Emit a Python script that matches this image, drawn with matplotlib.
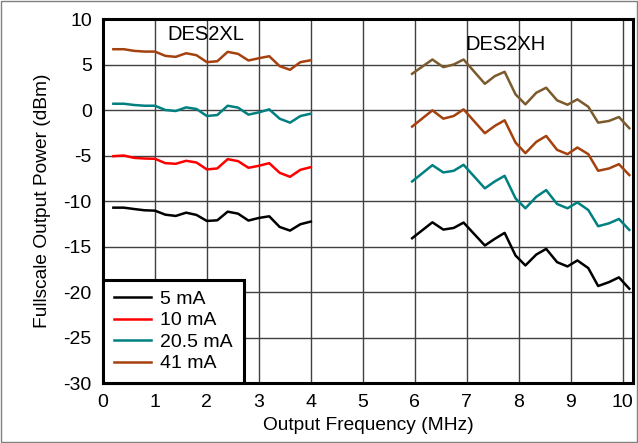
import matplotlib.pyplot as plt
from matplotlib.patches import Rectangle

plt.rcParams['font.family'] = ['Liberation Sans', 'DejaVu Sans']
plt.rcParams['axes.unicode_minus'] = False

# DES2XL sweep
freq_xl = [0.2, 0.4, 0.6, 0.8, 1.0, 1.2, 1.4, 1.6, 1.8, 2.0,
           2.2, 2.4, 2.6, 2.8, 3.0, 3.2, 3.4, 3.6, 3.8, 4.0]
xl_5ma = [-10.73, -10.73, -10.88, -11.02, -11.06, -11.5, -11.64, -11.28, -11.53, -12.19,
          -12.12, -11.17, -11.39, -12.15, -11.86, -11.68, -12.85, -13.25, -12.55, -12.26]
xl_10ma = [-5.07, -5.0, -5.26, -5.33, -5.36, -5.84, -5.91, -5.58, -5.77, -6.53,
           -6.42, -5.4, -5.62, -6.35, -6.13, -5.84, -6.9, -7.34, -6.57, -6.28]
xl_20ma = [0.69, 0.69, 0.55, 0.47, 0.47, 0.0, -0.11, 0.29, 0.11, -0.66,
           -0.55, 0.47, 0.26, -0.51, -0.26, 0.07, -0.95, -1.39, -0.66, -0.4]
xl_41ma = [6.68, 6.68, 6.5, 6.42, 6.42, 5.95, 5.84, 6.24, 6.02, 5.26,
           5.36, 6.39, 6.17, 5.44, 5.69, 5.91, 4.82, 4.42, 5.26, 5.47]

# DES2XH sweep
freq_xh = [5.95, 6.34, 6.55, 6.75, 6.94, 7.35, 7.54, 7.73, 7.94, 8.13,
           8.34, 8.53, 8.74, 8.94, 9.13, 9.34, 9.53, 9.74, 9.93, 10.13]
xh_a = [-14.09, -12.34, -13.14, -12.96, -12.37, -14.89, -14.16, -13.5, -15.99, -17.08,
        -15.88, -15.26, -16.72, -17.19, -16.53, -17.37, -19.34, -18.91, -18.39, -19.64]
xh_b = [-7.85, -6.06, -6.86, -6.68, -6.02, -8.61, -7.85, -7.23, -9.71, -10.8,
        -9.53, -8.8, -10.33, -10.8, -10.15, -10.99, -12.77, -12.45, -11.97, -13.18]
xh_c = [-1.82, -0.04, -0.95, -0.66, 0.07, -2.55, -1.75, -1.13, -3.58, -4.74,
        -3.5, -2.85, -4.38, -4.85, -4.12, -4.85, -6.68, -6.42, -5.95, -7.15]
xh_d = [3.98, 5.55, 4.71, 5.0, 5.55, 2.88, 3.72, 4.2, 1.72, 0.62,
        1.9, 2.45, 1.06, 0.58, 1.17, 0.36, -1.39, -1.2, -0.77, -2.0]

labels = ['5 mA', '10 mA', '20.5 mA', '41 mA']
colors = ['black', '#ff0000', '#008080', '#a5410e']
olive = '#7b5a2e'

fig = plt.figure(figsize=(6.38, 4.43), dpi=100)
ax = fig.add_axes([0.1614, 0.1354, 0.8307, 0.8217])

lw = 1.8
for y, c, lab in zip([xl_5ma, xl_10ma, xl_20ma, xl_41ma], colors, labels):
    ax.plot(freq_xl, y, color=c, lw=lw, label=lab)

for y, c in zip([xh_a, xh_b, xh_c, xh_d], ['black', '#008080', '#a5410e', olive]):
    ax.plot(freq_xh, y, color=c, lw=lw)

ax.text(1.98, 8.35, 'DES2XL', ha='center', va='center', fontsize=14.5)
ax.text(7.75, 7.25, 'DES2XH', ha='center', va='center', fontsize=14.5)

ax.set_xlim(0, 10.2)
ax.set_ylim(-30, 10)
ax.set_xticks(range(0, 11))
ax.set_yticks(range(-30, 11, 5))
ax.tick_params(length=0, labelsize=14)
ax.tick_params(axis='x', pad=8)
ax.tick_params(axis='y', pad=8)
ax.grid(True, color='#404040', lw=1)
ax.set_axisbelow(True)
for s in ax.spines.values():
    s.set_linewidth(2.2)

ax.set_xlabel('Output Frequency (MHz)', fontsize=13.8, labelpad=4)
ax.set_ylabel('Fullscale Output Power (dBm)', fontsize=13.8, labelpad=9)

leg = ax.legend(loc='lower left', fontsize=14, borderaxespad=0, fancybox=False,
                framealpha=1, edgecolor='black', handlelength=1.9,
                labelspacing=0.2, borderpad=0.55, handletextpad=0.5)
leg.get_frame().set_linewidth(2.2)

fig.patches.append(Rectangle((0.002, 0.002), 0.996, 0.996, transform=fig.transFigure,
                             fill=False, edgecolor='#808080', lw=1))

fig.savefig('out.png', dpi=100)
